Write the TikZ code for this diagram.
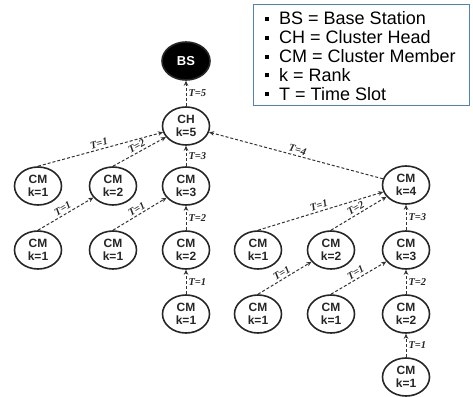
\documentclass[tikz,border=0pt]{standalone}
\usepackage{fontspec}
\setmainfont{Liberation Sans}
\newfontfamily\serifT{Liberation Serif}
\usetikzlibrary{arrows.meta,shapes.geometric}
\definecolor{legblue}{RGB}{79,129,189}
\begin{document}
\begin{tikzpicture}[x=1pt,y=-1pt,
  nd/.style={ellipse, draw=black!85, line width=1.6pt, minimum width=47pt, minimum height=38pt,
    inner sep=0pt, align=center, font=\fontsize{12}{13}\selectfont\bfseries, text=black!85},
  bsnode/.style={nd, fill=black, text=white, minimum width=48pt, minimum height=38pt, font=\fontsize{13}{14}\selectfont\bfseries},
  lnk/.style={densely dashed, line width=1pt, draw=black!80, -{Stealth[length=5pt,width=4.5pt]}},
  tl/.style={font=\serifT\bfseries\itshape\fontsize{10.5}{10.5}\selectfont, inner sep=2pt, text=black!85},
  legline/.style={anchor=base west, inner sep=0pt, font=\fontsize{18}{19}\selectfont}
]
\useasboundingbox (0,0) rectangle (473,396);

% legend
\node[draw=legblue, line width=1.3pt, minimum width=216pt, minimum height=101pt, anchor=north west, inner sep=0pt] (legend) at (253,4) {};
\newcommand{\legbul}{\rule[0.22em]{4pt}{4pt}\hspace{10pt}}
\node[legline] (leg1) at (265,25) {\legbul BS = Base Station};
\node[legline] (leg2) at (265,43.75) {\legbul CH = Cluster Head};
\node[legline] (leg3) at (265,62.5) {\legbul CM = Cluster Member};
\node[legline] (leg4) at (265,81.25) {\legbul k = Rank};
\node[legline] (leg5) at (265,100) {\legbul T = Time Slot};

% nodes
\node[bsnode] (BS) at (186,61) {BS};
\node[nd] (CH) at (186,126) {CH\\k=5};

\node[nd] (L1) at (38,186) {CM\\k=1};
\node[nd] (L2) at (113,186) {CM\\k=2};
\node[nd] (L3) at (186,186) {CM\\k=3};
\node[nd] (LL1) at (38,250) {CM\\k=1};
\node[nd] (LL2) at (113,250) {CM\\k=1};
\node[nd] (LL3) at (186,250) {CM\\k=2};
\node[nd] (LLL3) at (186,314) {CM\\k=1};

\node[nd] (R4) at (406,185) {CM\\k=4};
\node[nd] (R1) at (258,250) {CM\\k=1};
\node[nd] (R2) at (331,250) {CM\\k=2};
\node[nd] (R3) at (406,250) {CM\\k=3};
\node[nd] (RR1) at (258,314) {CM\\k=1};
\node[nd] (RR2) at (331,314) {CM\\k=1};
\node[nd] (RR3) at (406,314) {CM\\k=2};
\node[nd] (RRR3) at (406,377) {CM\\k=1};

% connectors
\draw[lnk] (CH.north) -- node[tl, right, midway] {T=5} (BS.south);
\draw[lnk] (L1.north) -- node[tl, sloped, above, midway] {T=1} (CH);
\draw[lnk] (L2.north) -- node[tl, sloped, above, midway] {T=2} (CH);
\draw[lnk] (L3.north) -- node[tl, right, midway] {T=3} (CH.south);
\draw[lnk] (R4) -- node[tl, sloped, above, midway] {T=4} (CH);

\draw[lnk] (LL1.north) -- node[tl, sloped, above, midway] {T=1} (L2);
\draw[lnk] (LL2.north) -- node[tl, sloped, above, midway] {T=1} (L3);
\draw[lnk] (LL3.north) -- node[tl, right, midway] {T=2} (L3.south);
\draw[lnk] (LLL3.north) -- node[tl, right, midway] {T=1} (LL3.south);

\draw[lnk] (R1.north) -- node[tl, sloped, above, midway] {T=1} (R4);
\draw[lnk] (R2.north) -- node[tl, sloped, above, midway] {T=2} (R4);
\draw[lnk] (R3.north) -- node[tl, right, midway] {T=3} (R4.south);
\draw[lnk] (RR1.north) -- node[tl, sloped, above, midway] {T=1} (R2);
\draw[lnk] (RR2.north) -- node[tl, sloped, above, midway] {T=1} (R3);
\draw[lnk] (RR3.north) -- node[tl, right, midway] {T=2} (R3.south);
\draw[lnk] (RRR3.north) -- node[tl, right, midway] {T=1} (RR3.south);
\end{tikzpicture}
\end{document}
